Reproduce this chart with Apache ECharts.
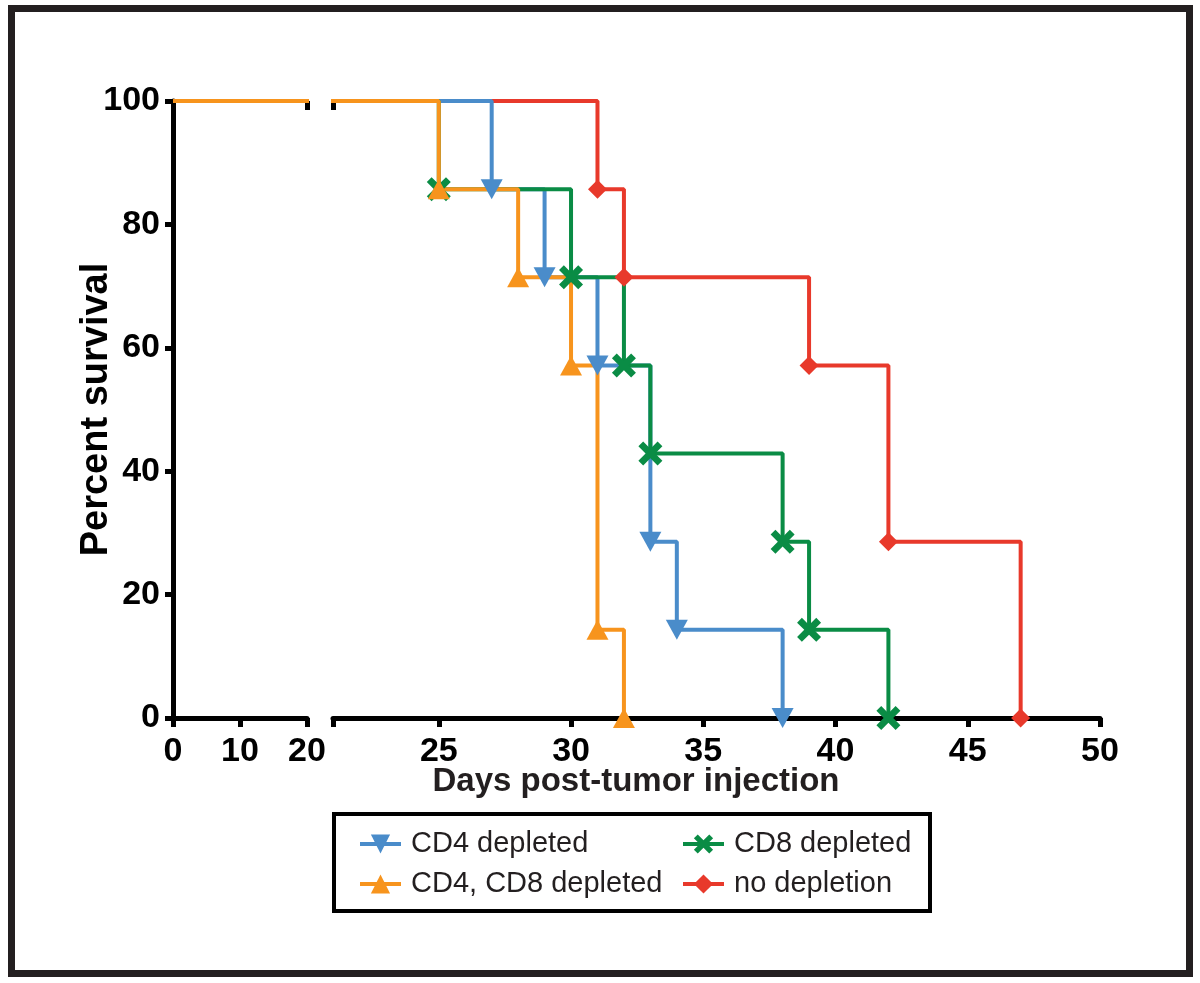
<!DOCTYPE html>
<html>
<head>
<meta charset="utf-8">
<script src="https://cdn.jsdelivr.net/npm/echarts@6/dist/echarts.min.js"></script>
<style>
  html, body { margin: 0; padding: 0; background: #fff; }
  #chart { width: 1200px; height: 983px; }
</style>
</head>
<body>
<div id="chart"></div>
<script>
// Kaplan-Meier steps: day of event and survival (%) after it, 7 mice per group
const cd4Days = [0, 27, 29, 31, 33, 34, 38]
const cd4Surv = [100, 85.71, 71.43, 57.14, 28.57, 14.29, 0]

const cd8Days = [0, 25, 30, 32, 33, 38, 39, 42]
const cd8Surv = [100, 85.71, 71.43, 57.14, 42.86, 28.57, 14.29, 0]

const cd4cd8Days = [0, 25, 28, 30, 31, 32]
const cd4cd8Surv = [100, 85.71, 71.43, 57.14, 14.29, 0]

const noDepDays = [0, 31, 32, 39, 42, 47]
const noDepSurv = [100, 85.71, 71.43, 57.14, 28.57, 0]

const yTicks = [0, 20, 40, 60, 80, 100]
const xLeftTicks = [0, 10, 20]
const xRightTicks = [25, 30, 35, 40, 45, 50]

const FONT = '"Liberation Sans", Arial, Helvetica, sans-serif'
const crossPath = 'path://M2,0 L5,3 L8,0 L10,2 L7,5 L10,8 L8,10 L5,7 L2,10 L0,8 L3,5 L0,2 Z'

// draw order = stacking order (orange ends up on top)
const groups = [
  { name: 'no depletion', days: noDepDays, surv: noDepSurv, color: '#e8392b', symbol: 'diamond', size: [19, 19], rotate: 0 },
  { name: 'CD4 depleted', days: cd4Days, surv: cd4Surv, color: '#4a8cca', symbol: 'triangle', size: [22, 20], rotate: 180 },
  { name: 'CD8 depleted', days: cd8Days, surv: cd8Surv, color: '#0a8c45', symbol: crossPath, size: [24, 24], rotate: 0 },
  { name: 'CD4, CD8 depleted', days: cd4cd8Days, surv: cd4cd8Surv, color: '#f7941d', symbol: 'triangle', size: [22, 20], rotate: 0 },
]

function stepData(days, surv) {
  return days.map((d, i) => i === 0 ? { value: [d, surv[i]], symbol: 'none' } : [d, surv[i]])
}

const series = []
groups.forEach(g => {
  series.push({
    name: g.name,
    type: 'line',
    step: 'end',
    xAxisIndex: 1,
    yAxisIndex: 1,
    data: stepData(g.days, g.surv),
    color: g.color,
    symbol: g.symbol,
    symbolSize: g.size,
    symbolRotate: g.rotate,
    showAllSymbol: true,
    lineStyle: { width: 4, color: g.color },
    itemStyle: { color: g.color },
    animation: false,
  })
})
groups.forEach(g => {
  series.push({
    name: g.name,
    type: 'line',
    step: 'end',
    xAxisIndex: 0,
    yAxisIndex: 0,
    data: stepData(g.days, g.surv),
    color: g.color,
    symbol: 'none',
    lineStyle: { width: 4, color: g.color },
    animation: false,
  })
})

const axisLine = { show: true, lineStyle: { color: '#000', width: 5 } }
const tickStyle = { color: '#000', width: 5 }
const labelFont = { color: '#000', fontFamily: FONT, fontWeight: 'bold', fontSize: 34 }
const legendText = { color: '#231f20', fontFamily: FONT, fontSize: 29, lineHeight: 30, padding: [0, 0, 0, 5] }

const option = {
  backgroundColor: '#fff',
  animation: false,
  grid: [
    { left: 173, top: 101, width: 134, height: 617 },
    { left: 333, top: 101, width: 767, height: 617 },
  ],
  xAxis: [
    {
      gridIndex: 0, type: 'value', min: 0, max: 20, interval: 10,
      axisLine: axisLine,
      axisTick: { show: true, length: 9, lineStyle: tickStyle, customValues: xLeftTicks },
      axisLabel: Object.assign({ margin: 17, customValues: xLeftTicks }, labelFont),
      splitLine: { show: false },
    },
    {
      gridIndex: 1, type: 'value', min: 21, max: 50,
      axisLine: axisLine,
      axisTick: { show: true, length: 9, lineStyle: tickStyle, customValues: [21].concat(xRightTicks) },
      axisLabel: Object.assign({ margin: 17, customValues: xRightTicks }, labelFont),
      splitLine: { show: false },
    },
    // break caps (ticks pointing up at the break ends)
    {
      gridIndex: 0, type: 'value', min: 0, max: 20,
      axisLine: { show: false },
      axisTick: { show: true, inside: true, length: 9, lineStyle: tickStyle, customValues: [20] },
      axisLabel: { show: false }, splitLine: { show: false },
    },
    {
      gridIndex: 1, type: 'value', min: 21, max: 50,
      axisLine: { show: false },
      axisTick: { show: true, inside: true, length: 9, lineStyle: tickStyle, customValues: [21] },
      axisLabel: { show: false }, splitLine: { show: false },
    },
  ],
  yAxis: [
    {
      gridIndex: 0, type: 'value', min: 0, max: 100, interval: 20,
      name: 'Percent survival', nameLocation: 'middle', nameGap: 57, nameMoveOverlap: false,
      nameTextStyle: { color: '#000', fontFamily: FONT, fontWeight: 'bold', fontSize: 38 },
      axisLine: axisLine,
      axisTick: { show: true, length: 8, lineStyle: tickStyle },
      axisLabel: Object.assign({ margin: 13, customValues: yTicks }, labelFont),
      splitLine: { show: false },
    },
    {
      gridIndex: 1, type: 'value', min: 0, max: 100, interval: 20,
      axisLine: { show: false }, axisTick: { show: false }, axisLabel: { show: false },
      splitLine: { show: false },
    },
  ],
  legend: [
    {
      orient: 'vertical', left: 353, top: 824, itemGap: 10,
      itemWidth: 41, itemHeight: 24,
      data: ['CD4 depleted', 'CD4, CD8 depleted'],
      lineStyle: { width: 4 },
      textStyle: legendText,
      selectedMode: false,
    },
    {
      orient: 'vertical', left: 676, top: 824, itemGap: 10,
      itemWidth: 41, itemHeight: 24,
      data: ['CD8 depleted', 'no depletion'],
      lineStyle: { width: 4 },
      textStyle: legendText,
      selectedMode: false,
    },
  ],
  graphic: [
    {
      type: 'rect', silent: true,
      shape: { x: 11.5, y: 8.5, width: 1178, height: 965 },
      style: { fill: 'none', stroke: '#231f20', lineWidth: 7 },
    },
    {
      type: 'rect', silent: true,
      shape: { x: 334, y: 814, width: 596, height: 97 },
      style: { fill: 'none', stroke: '#000', lineWidth: 4 },
    },
    {
      type: 'text', silent: true, x: 636, y: 782,
      style: {
        text: 'Days post-tumor injection', fill: '#231f20',
        font: 'bold 33px ' + FONT, textAlign: 'center', textVerticalAlign: 'middle',
      },
    },
  ],
  series: series,
}

const chart = echarts.init(document.getElementById('chart'))
chart.setOption(option)
</script>
</body>
</html>
